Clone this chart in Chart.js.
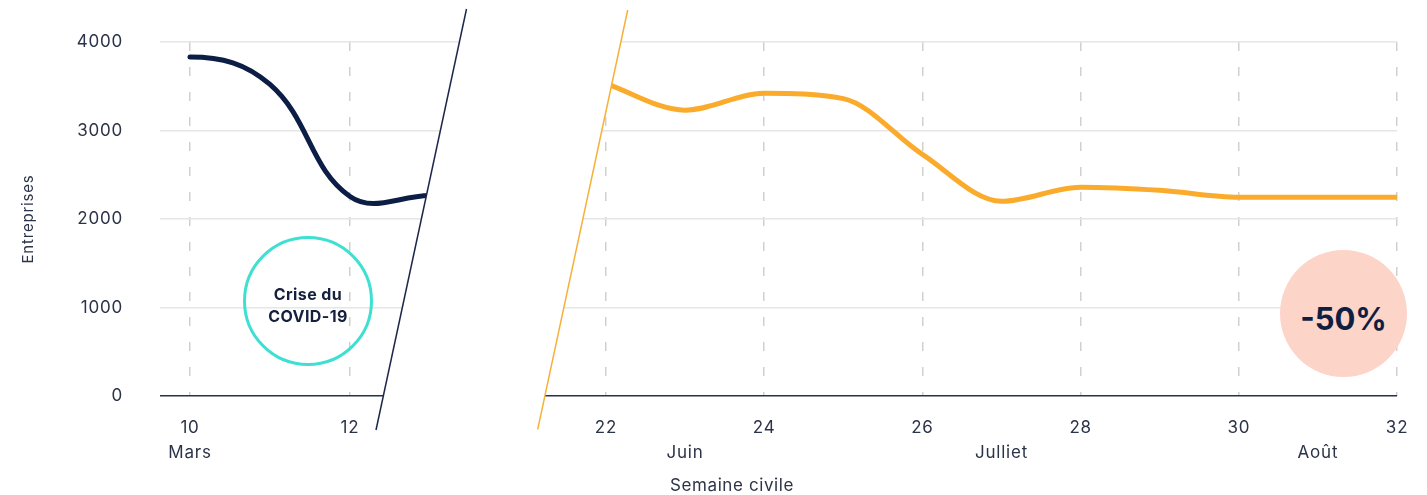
<!DOCTYPE html>
<html>
<head>
<meta charset="utf-8">
<script src="https://cdn.jsdelivr.net/npm/chart.js@4"></script>
<style>
html,body{margin:0;padding:0;background:#fff;}
#wrap{position:relative;width:1427px;height:495px;overflow:hidden;font-family:Inter,"Noto Sans",sans-serif;}
canvas{position:absolute;left:0;top:0;}
.covid{position:absolute;left:243px;top:236px;width:130px;height:130px;border:3px solid #3fe0d2;border-radius:50%;display:flex;align-items:center;justify-content:center;text-align:center;font-weight:700;font-size:16px;letter-spacing:0.4px;line-height:22px;color:#14203c;padding-top:7px;box-sizing:border-box;}
.badge{position:absolute;left:1280px;top:250px;width:127px;height:127px;border-radius:50%;background:#fdd4c8;display:flex;align-items:center;justify-content:center;font-weight:700;font-size:31px;color:#0f1f42;padding-top:10px;box-sizing:border-box;}
.xtitle{position:absolute;left:732px;top:474px;transform:translateX(-50%);font-size:17px;letter-spacing:0.6px;line-height:22px;color:#2c3447;white-space:nowrap;}
</style>
</head>
<body>
<div id="wrap">
  <canvas id="before" width="1427" height="495"></canvas>
  <canvas id="after" width="1427" height="495"></canvas>
  <div class="covid">Crise du<br>COVID-19</div>
  <div class="badge">-50%</div>
  <div class="xtitle">Semaine civile</div>
</div>
<script>
// ---- data ----
const weeksBefore = [10, 11, 12, 13];
const entreprisesBefore = [3830, 3520, 2255, 2265];
const weeksAfter = [22, 23, 24, 25, 26, 27, 28, 29, 30, 31, 32];
const entreprisesAfter = [3530, 3230, 3420, 3360, 2730, 2200, 2360, 2325, 2245, 2245, 2245];
const yTicks = [0, 1000, 2000, 3000, 4000];
const weekTicksBefore = [10, 11, 12];
const weekTicksAfter = [22, 23, 24, 25, 26, 27, 28, 29, 30, 31, 32];
const numberedWeeks = [10, 12, 22, 24, 26, 28, 30, 32];
const monthWeeks = [10, 23, 27, 31];
const monthNames = ['Mars', 'Juin', 'Julliet', 'Août'];

// ---- styling ----
const NAVY = '#0c1e45';
const ORANGE = '#fbab2c';
const TICK = '#2b3348';
const FONT = 'Inter';

function weekLabel(v) {
  const num = numberedWeeks.includes(v) ? String(v) : '';
  const mi = monthWeeks.indexOf(v);
  const month = mi >= 0 ? monthNames[mi] : '';
  return [num, month];
}

function breakPlugin(poly, line, color, flatStart) {
  return {
    id: 'axisBreak',
    beforeDraw(chart) {
      const c = chart.ctx;
      c.save();
      c.letterSpacing = '0.8px';
      c.beginPath();
      poly.forEach((p, i) => i ? c.lineTo(p[0], p[1]) : c.moveTo(p[0], p[1]));
      c.closePath();
      c.clip();
    },
    beforeDatasetDraw(chart, args) {
      if (!flatStart) return;
      try {
        const meta = args.meta;
        meta.dataset.updateControlPoints(chart.chartArea, meta.iScale.axis);
        const p = meta.data[0];
        if (p && p.cp2y !== undefined) p.cp2y = p.y; // horizontal tangent at the series start
      } catch (e) {}
    },
    afterDraw(chart) {
      const c = chart.ctx;
      c.restore();
      c.save();
      c.strokeStyle = color;
      c.lineWidth = 1.5;
      c.beginPath();
      c.moveTo(line[0][0], line[0][1]);
      c.lineTo(line[1][0], line[1][1]);
      c.stroke();
      c.restore();
    }
  };
}

function makeChart(id, weeks, values, color, interp, xMin, xMax, xTicks, yWidth, padRight, showY, plugin) {
  return new Chart(document.getElementById(id), {
    type: 'line',
    data: {
      datasets: [{
        data: weeks.map((w, i) => ({ x: w, y: values[i] })),
        borderColor: color,
        borderWidth: 5,
        tension: 0.4,
        cubicInterpolationMode: interp,
        pointRadius: 0,
        fill: false,
        borderCapStyle: 'round'
      }]
    },
    options: {
      responsive: false,
      animation: false,
      layout: { padding: { top: 42, right: padRight, bottom: 0, left: 0 } },
      plugins: { legend: { display: false }, tooltip: { enabled: false } },
      scales: {
        x: {
          type: 'linear',
          min: xMin,
          max: xMax,
          afterBuildTicks: s => { s.ticks = xTicks.map(v => ({ value: v })); },
          afterFit: s => { s.height = 99; },
          ticks: {
            autoSkip: false,
            maxRotation: 0,
            padding: 19.5,
            color: TICK,
            font: { family: FONT, size: 17, lineHeight: 1.47 },
            callback: v => weekLabel(v)
          },
          grid: {
            drawTicks: false,
            lineWidth: 1.5,
            color: ctx => (ctx.tick && ctx.tick.value % 2 === 0) ? '#d0d0d0' : 'rgba(0,0,0,0)'
          },
          border: { display: false, dash: [9, 16] }
        },
        y: {
          min: 0,
          max: 4000,
          afterBuildTicks: s => { s.ticks = yTicks.map(v => ({ value: v })); },
          afterFit: s => { s.width = yWidth; s.paddingTop = 10; s.paddingBottom = 10; },
          ticks: {
            display: showY,
            padding: 37,
            color: TICK,
            font: { family: FONT, size: 17 },
            callback: v => String(v)
          },
          grid: {
            drawTicks: false,
            lineWidth: 1.5,
            color: ctx => (ctx.tick && ctx.tick.value === 0) ? '#26314f' : '#e6e6e6'
          },
          border: { display: false },
          title: {
            display: showY,
            text: 'Entreprises',
            color: TICK,
            font: { family: FONT, size: 15 },
            padding: { top: 19, bottom: 0 }
          }
        }
      }
    },
    plugins: [plugin]
  });
}

makeChart('before', weeksBefore, entreprisesBefore, NAVY, 'default', 9.625, 13.5, weekTicksBefore, 160, 957, true,
  breakPlugin([[0, 0], [468.4, 0], [362, 495], [0, 495]], [[466.5, 9], [376, 430]], '#1c2848', true));
makeChart('after', weeksAfter, entreprisesAfter, ORANGE, 'monotone', 21.04, 32, weekTicksAfter, 530, 29, false,
  breakPlugin([[629.8, 0], [1427, 0], [1427, 495], [523.6, 495]], [[627.7, 10], [537.7, 429.3]], '#f7b03a', false));
</script>
</body>
</html>
